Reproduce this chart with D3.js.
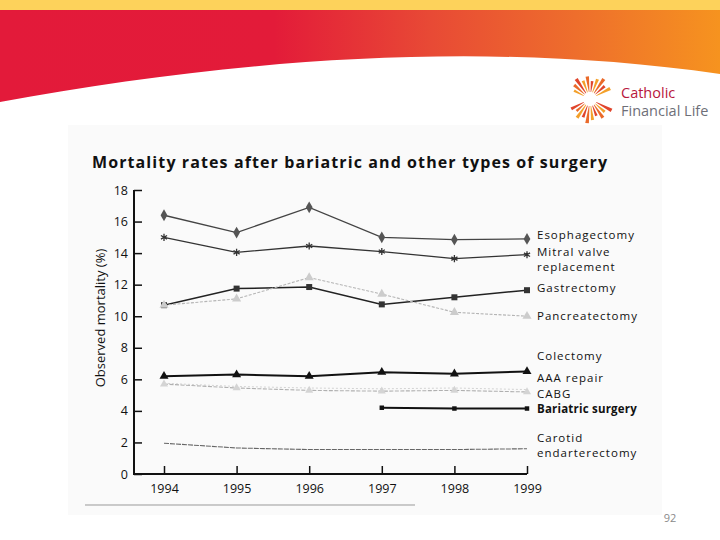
<!DOCTYPE html>
<html>
<head>
<meta charset="utf-8">
<script src="https://cdn.jsdelivr.net/npm/d3@7"></script>
<style>
  html, body { margin: 0; padding: 0; background: #fff; }
  svg { display: block; }
  text { font-family: "Open Sans", "Noto Sans", sans-serif; }
</style>
</head>
<body>
<svg id="chart" width="720" height="540"></svg>
<script>
// ---------- data ----------
const years = [1994, 1995, 1996, 1997, 1998, 1999];
const yTicks = [0, 2, 4, 6, 8, 10, 12, 14, 16, 18];
const esophagectomy = [16.4, 15.3, 16.9, 15.0, 14.85, 14.9];
const mitralValve   = [15.0, 14.05, 14.45, 14.1, 13.65, 13.9];
const gastrectomy   = [10.7, 11.75, 11.85, 10.75, 11.2, 11.65];
const pancreatectomy= [10.7, 11.1, 12.45, 11.4, 10.25, 10.0];
const colectomy     = [5.75, 5.55, 5.45, 5.4, 5.45, 5.35];
const aaaRepair     = [6.2, 6.3, 6.2, 6.45, 6.35, 6.5];
const cabg          = [5.7, 5.45, 5.3, 5.25, 5.3, 5.2];
const bariatric     = [null, null, null, 4.2, 4.15, 4.15];
const carotid       = [1.95, 1.65, 1.55, 1.55, 1.55, 1.6];
const title = "Mortality rates after bariatric and other types of surgery";
const yLabel = "Observed mortality (%)";
const legendLabels = [
  ["Esophagectomy"], ["Mitral valve", "replacement"], ["Gastrectomy"], ["Pancreatectomy"],
  ["Colectomy"], ["AAA repair"], ["CABG"], ["Bariatric surgery"], ["Carotid", "endarterectomy"]
];

// ---------- setup ----------
const svg = d3.select("#chart");
const defs = svg.append("defs");

// banner gradient
const bg = defs.append("linearGradient").attr("id", "bannerGrad").attr("x1", "0").attr("x2", "1").attr("y1", "0").attr("y2", "0");
bg.append("stop").attr("offset", "0").attr("stop-color", "#e31a3a");
bg.append("stop").attr("offset", "0.38").attr("stop-color", "#e31b39");
bg.append("stop").attr("offset", "0.6").attr("stop-color", "#e84a35");
bg.append("stop").attr("offset", "0.8").attr("stop-color", "#ee6e2c");
bg.append("stop").attr("offset", "1").attr("stop-color", "#f6931f");

// banner
svg.append("rect").attr("x", 0).attr("y", 0).attr("width", 720).attr("height", 11).attr("fill", "#fdd25b");
svg.append("path")
  .attr("d", "M0,10 L720,10 L720,74 C470,38 220,62 0,102 Z")
  .attr("fill", "url(#bannerGrad)");

// logo sunburst
const sun = svg.append("g").attr("transform", "translate(590,99)");
const nRays = 26;
let k = 0;
for (let i = 0; i < nRays; i++) {
  const a = (i / nRays) * 2 * Math.PI;
  if (Math.abs(Math.cos(a)) > 0.97) continue;
  const r0 = 7, r1 = 18 + ((i * 7) % 5) * 1.6;
  const w = 0.075;
  const p = [
    [r0 * Math.cos(a - w * 0.5), r0 * Math.sin(a - w * 0.5)],
    [r1 * Math.cos(a - w), r1 * Math.sin(a - w)],
    [r1 * Math.cos(a + w), r1 * Math.sin(a + w)],
    [r0 * Math.cos(a + w * 0.5), r0 * Math.sin(a + w * 0.5)]
  ];
  sun.append("path").attr("d", "M" + p.map(q => q.join(",")).join("L") + "Z")
    .attr("fill", k % 3 === 0 ? "#e0452c" : (k % 3 === 1 ? "#f3a02a" : "#ea6a2a"));
  k++;
}
svg.append("text").attr("x", 621).attr("y", 97.5).attr("font-size", 14.5).attr("fill", "#b8163c")
  .attr("font-family", "'Liberation Sans', Arial, sans-serif").text("Catholic");
svg.append("text").attr("x", 621).attr("y", 115.5).attr("font-size", 14.5).attr("fill", "#6e6f78")
  .attr("font-family", "'Liberation Sans', Arial, sans-serif").text("Financial Life");

// scanned chart area
svg.append("rect").attr("x", 68).attr("y", 125).attr("width", 594).attr("height", 390).attr("fill", "#fafafa");
svg.append("line").attr("x1", 85).attr("x2", 415).attr("y1", 505).attr("y2", 505)
  .attr("stroke", "#999").attr("stroke-width", 1);

// scales
const x = d3.scaleLinear().domain([1994, 1999]).range([164, 527]);
const y = d3.scaleLinear().domain([0, 18]).range([474, 190]);

// title
svg.append("text").attr("x", 92).attr("y", 168).attr("font-size", 16).attr("font-weight", "bold")
  .attr("fill", "#111").attr("textLength", 515).attr("lengthAdjust", "spacing").text(title);

// y axis
const yAxis = d3.axisLeft(y).tickValues(yTicks).tickSize(-8).tickPadding(6).tickFormat(d3.format("d"));
const gy = svg.append("g").attr("transform", "translate(134,0)").call(yAxis);
gy.select(".domain").attr("d", "M0," + y(18) + "V" + 474).attr("stroke", "#111").attr("stroke-width", 2);
gy.selectAll(".tick line").attr("stroke", "#111").attr("stroke-width", 1.5);
gy.selectAll(".tick text").attr("font-size", 12.5).attr("fill", "#111")
  .attr("font-family", "'Open Sans', sans-serif");

// x axis
const xAxis = d3.axisBottom(x).tickValues(years).tickSize(-8).tickPadding(10).tickFormat(d3.format("d"));
const gx = svg.append("g").attr("transform", "translate(0,474)").call(xAxis);
gx.select(".domain").attr("d", "M133,0H" + x(1999)).attr("stroke", "#111").attr("stroke-width", 2);
gx.selectAll(".tick line").attr("stroke", "#111").attr("stroke-width", 1.5);
gx.selectAll(".tick text").attr("font-size", 12.5).attr("fill", "#111")
  .attr("font-family", "'Open Sans', sans-serif");

// y label
svg.append("text").attr("transform", "translate(105,318) rotate(-90)").attr("text-anchor", "middle")
  .attr("font-size", 13).attr("fill", "#111").text(yLabel);

// series
const series = [
  { vals: esophagectomy, color: "#444", w: 1.3, sym: d3.symbolDiamond, size: 40, fill: "#555", dash: null },
  { vals: mitralValve, color: "#333", w: 1.3, sym: d3.symbolAsterisk, size: 35, fill: "none", dash: null, strokeSym: true },
  { vals: gastrectomy, color: "#222", w: 1.5, sym: d3.symbolSquare, size: 36, fill: "#333", dash: null },
  { vals: pancreatectomy, color: "#b5b5b5", w: 1.1, sym: d3.symbolTriangle, size: 36, fill: "#cccccc", dash: "3,1.5" },
  { vals: colectomy, color: "#d4d4d4", w: 1, sym: null, dash: "2,2" },
  { vals: aaaRepair, color: "#111", w: 2, sym: d3.symbolTriangle, size: 35, fill: "#111", dash: null },
  { vals: cabg, color: "#b0b0b0", w: 1.1, sym: d3.symbolTriangle, size: 28, fill: "#d4d4d4", dash: "4,1.5" },
  { vals: bariatric, color: "#111", w: 2, sym: d3.symbolSquare, size: 20, fill: "#111", dash: null },
  { vals: carotid, color: "#666", w: 1.1, sym: null, dash: "5,1" }
];

const line = d3.line().defined(d => d.v !== null).x(d => x(d.yr)).y(d => y(d.v));
series.forEach(s => {
  const pts = years.map((yr, i) => ({ yr, v: s.vals[i] }));
  svg.append("path").datum(pts).attr("d", line).attr("fill", "none")
    .attr("stroke", s.color).attr("stroke-width", s.w).attr("stroke-dasharray", s.dash);
  if (s.sym) {
    svg.append("g").selectAll("path").data(pts.filter(d => d.v !== null)).join("path")
      .attr("transform", d => `translate(${x(d.yr)},${y(d.v)})`)
      .attr("d", d3.symbol().type(s.sym).size(s.size))
      .attr("fill", s.strokeSym ? "none" : s.fill)
      .attr("stroke", s.strokeSym ? s.color : "none")
      .attr("stroke-width", 1.3);
  }
});

// legend labels (multi-line labels as one text element)
const legendBaselines = [239, 256, 292, 320, 360, 382, 397.5, 413, 442];
legendLabels.forEach((lines, i) => {
  const t = svg.append("text").attr("x", 537).attr("y", legendBaselines[i])
    .attr("font-family", "'Liberation Sans', Arial, sans-serif")
    .attr("font-size", 11.5).attr("fill", "#111")
    .attr("font-weight", i === 7 ? "bold" : "normal")
    .attr("letter-spacing", i === 7 ? 0.2 : 1.0);
  lines.forEach((s, j) => {
    t.append("tspan").attr("x", 537).attr("dy", j === 0 ? 0 : 15).text(s);
  });
});

// page number
svg.append("text").attr("x", 670).attr("y", 522).attr("text-anchor", "middle").attr("font-size", 11)
  .attr("fill", "#8a8a8a").text("92");
</script>
</body>
</html>
